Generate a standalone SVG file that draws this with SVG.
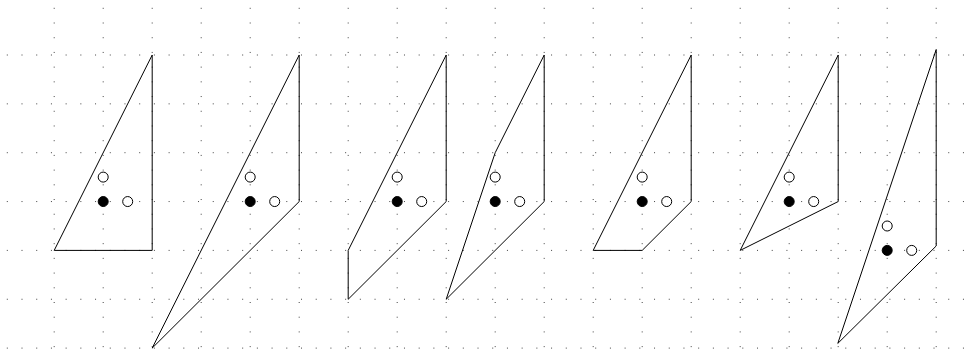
<svg xmlns="http://www.w3.org/2000/svg" width="975" height="351" viewBox="0 0 975 351">
<style>
.grid line{stroke:#444;stroke-width:1;stroke-dasharray:1 13.71;}
.shape{fill:none;stroke:#000;stroke-width:1;stroke-linejoin:miter;}
.open{fill:#fff;stroke:#000;stroke-width:1;}
.fill{fill:#000;stroke:#000;stroke-width:1;}
</style>
<rect width="975" height="351" fill="#fff"/>
<g id="grid" class="grid">
<line x1="6.8" y1="55" x2="975" y2="55"/>
<line x1="6.8" y1="103.85" x2="975" y2="103.85"/>
<line x1="6.8" y1="152.7" x2="975" y2="152.7"/>
<line x1="6.8" y1="201.55" x2="975" y2="201.55"/>
<line x1="6.8" y1="250.4" x2="975" y2="250.4"/>
<line x1="6.8" y1="299.25" x2="975" y2="299.25"/>
<line x1="6.8" y1="348.1" x2="975" y2="348.1"/>
<line x1="54.2" y1="7.8" x2="54.2" y2="351"/>
<line x1="103.2" y1="7.8" x2="103.2" y2="351"/>
<line x1="152.2" y1="7.8" x2="152.2" y2="351"/>
<line x1="201.2" y1="7.8" x2="201.2" y2="351"/>
<line x1="250.2" y1="7.8" x2="250.2" y2="351"/>
<line x1="299.2" y1="7.8" x2="299.2" y2="351"/>
<line x1="348.2" y1="7.8" x2="348.2" y2="351"/>
<line x1="397.2" y1="7.8" x2="397.2" y2="351"/>
<line x1="446.2" y1="7.8" x2="446.2" y2="351"/>
<line x1="495.2" y1="7.8" x2="495.2" y2="351"/>
<line x1="544.2" y1="7.8" x2="544.2" y2="351"/>
<line x1="593.2" y1="7.8" x2="593.2" y2="351"/>
<line x1="642.2" y1="7.8" x2="642.2" y2="351"/>
<line x1="691.2" y1="7.8" x2="691.2" y2="351"/>
<line x1="740.2" y1="7.8" x2="740.2" y2="351"/>
<line x1="789.2" y1="7.8" x2="789.2" y2="351"/>
<line x1="838.2" y1="7.8" x2="838.2" y2="351"/>
<line x1="887.2" y1="7.8" x2="887.2" y2="351"/>
<line x1="936.2" y1="7.8" x2="936.2" y2="351"/>
</g>
<g id="shape1">
<polygon class="shape" points="54.2,250.4 152.2,55 152.2,250.4"/>
<circle class="open" cx="103.2" cy="177.1" r="5"/>
<circle class="fill" cx="103.2" cy="201.55" r="5"/>
<circle class="open" cx="127.7" cy="201.55" r="5"/>
</g>
<g id="shape2">
<polygon class="shape" points="152.2,348.1 299.2,55 299.2,201.55"/>
<circle class="open" cx="250.2" cy="177.1" r="5"/>
<circle class="fill" cx="250.2" cy="201.55" r="5"/>
<circle class="open" cx="274.7" cy="201.55" r="5"/>
</g>
<g id="shape3">
<polygon class="shape" points="348.2,250.4 446.2,55 446.2,201.55 348.2,299.25"/>
<circle class="open" cx="397.2" cy="177.1" r="5"/>
<circle class="fill" cx="397.2" cy="201.55" r="5"/>
<circle class="open" cx="421.7" cy="201.55" r="5"/>
</g>
<g id="shape4">
<polygon class="shape" points="446.2,299.25 495.2,152.7 544.2,55 544.2,201.55"/>
<circle class="open" cx="495.2" cy="177.1" r="5"/>
<circle class="fill" cx="495.2" cy="201.55" r="5"/>
<circle class="open" cx="519.7" cy="201.55" r="5"/>
</g>
<g id="shape5">
<polygon class="shape" points="593.2,250.4 691.2,55 691.2,201.55 642.2,250.4"/>
<circle class="open" cx="642.2" cy="177.1" r="5"/>
<circle class="fill" cx="642.2" cy="201.55" r="5"/>
<circle class="open" cx="666.7" cy="201.55" r="5"/>
</g>
<g id="shape6">
<polygon class="shape" points="740.2,250.4 838.2,55 838.2,201.55"/>
<circle class="open" cx="789.2" cy="177.1" r="5"/>
<circle class="fill" cx="789.2" cy="201.55" r="5"/>
<circle class="open" cx="813.7" cy="201.55" r="5"/>
</g>
<g id="shape7">
<polygon class="shape" points="837.8,343.4 936.2,49.5 936.2,246"/>
<circle class="open" cx="887.2" cy="226" r="5"/>
<circle class="fill" cx="887.2" cy="250.4" r="5"/>
<circle class="open" cx="911.7" cy="250.4" r="5"/>
</g>
<g id="connectors"></g>
</svg>
